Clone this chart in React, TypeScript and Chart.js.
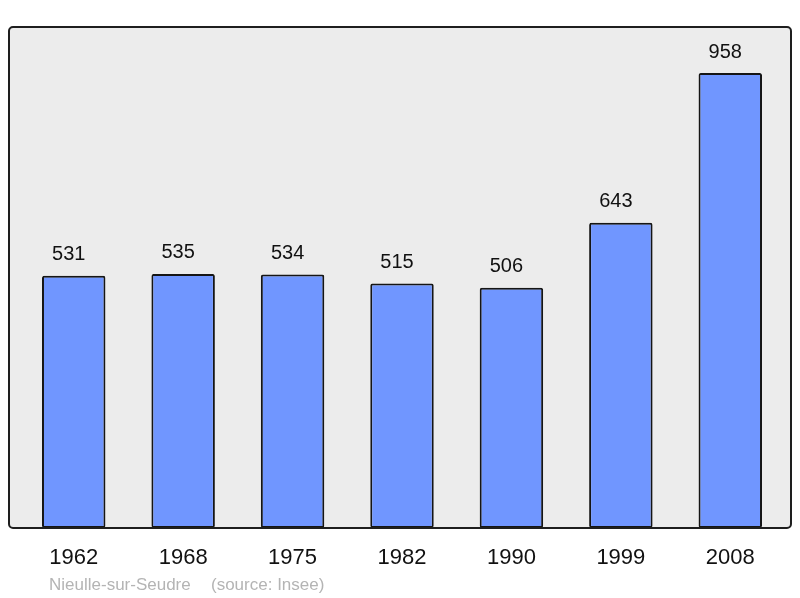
import React, { useEffect, useRef } from "react";
import { Chart, registerables } from "chart.js";

Chart.register(...registerables);

const years = ["1962", "1968", "1975", "1982", "1990", "1999", "2008"];
const population = [531, 535, 534, 515, 506, 643, 958];
const placeName = "Nieulle-sur-Seudre";
const sourceText = "(source: Insee)";

const FONT = "'Liberation Sans', Arial, sans-serif";

const framePlugin = {
  id: "frame",
  beforeDraw(chart: any) {
    const { ctx, chartArea } = chart;
    const l = chartArea.left - 10;
    const r = chartArea.right + 6;
    const t = chartArea.top;
    const b = chartArea.bottom;
    ctx.save();
    ctx.beginPath();
    (ctx as any).roundRect(l, t, r - l, b - t, 4);
    ctx.fillStyle = "#ececec";
    ctx.fill();
    ctx.restore();
  },
  afterDatasetsDraw(chart: any) {
    const { ctx, chartArea } = chart;
    const l = chartArea.left - 10;
    const r = chartArea.right + 6;
    const t = chartArea.top;
    const b = chartArea.bottom;
    ctx.save();
    ctx.beginPath();
    (ctx as any).roundRect(l, t, r - l, b - t, 4);
    ctx.lineWidth = 2;
    ctx.strokeStyle = "#1e1e1e";
    ctx.stroke();

    const meta = chart.getDatasetMeta(0);
    ctx.fillStyle = "#111111";
    ctx.font = `20px ${FONT}`;
    ctx.textAlign = "center";
    ctx.textBaseline = "middle";
    meta.data.forEach((bar: any, i: number) => {
      ctx.fillText(String(population[i]), bar.x - 5, bar.y - 21);
    });

    ctx.fillStyle = "#b4b4b4";
    ctx.font = `17px ${FONT}`;
    ctx.textAlign = "left";
    ctx.textBaseline = "alphabetic";
    ctx.fillText(placeName, l + 40, chart.height - 8);
    ctx.fillText(sourceText, l + 202, chart.height - 8);
    ctx.restore();
  },
};

export default function App() {
  const ref = useRef<HTMLCanvasElement | null>(null);
  useEffect(() => {
    if (!ref.current) return;
    const chart = new Chart(ref.current, {
      type: "bar",
      data: {
        labels: years,
        datasets: [
          {
            data: population,
            backgroundColor: "#7096ff",
            borderColor: "#151515",
            borderWidth: 2,
            borderRadius: 2,
            borderSkipped: false,
            categoryPercentage: 1,
            barPercentage: 0.58,
          },
        ],
      },
      options: {
        animation: false,
        responsive: false,
        devicePixelRatio: 1,
        layout: { padding: { left: 19, right: 15, top: 27, bottom: 0 } },
        plugins: {
          legend: { display: false },
          tooltip: { enabled: false },
          title: { display: false },
        },
        scales: {
          x: {
            grid: { display: false, drawTicks: false },
            border: { display: false },
            ticks: {
              color: "#111111",
              font: { family: FONT, size: 22 },
              padding: 17,
              maxRotation: 0,
            },
            afterFit: (scale: any) => {
              scale.height = 70;
            },
          },
          y: {
            display: false,
            min: 0,
            max: 1055,
          },
        },
      },
      plugins: [framePlugin],
    });
    return () => chart.destroy();
  }, []);
  return (
    <div style={{ position: "absolute", left: 0, top: 0, width: 800, height: 598 }}>
      <canvas ref={ref} width={800} height={598} style={{ width: 800, height: 598 }} />
    </div>
  );
}
